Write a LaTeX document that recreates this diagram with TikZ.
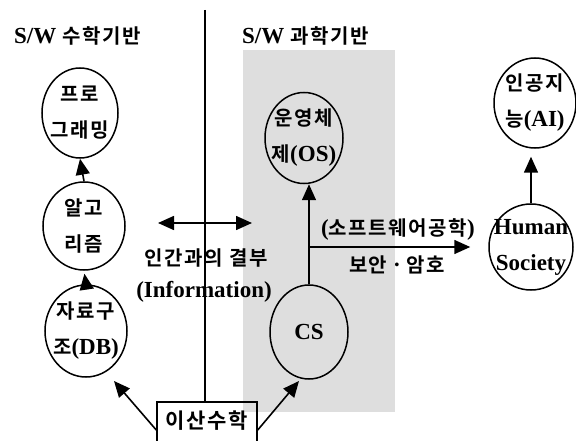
\documentclass[tikz,border=0pt]{standalone}
\usepackage{fontspec}
\setmainfont{Liberation Serif}
\newfontfamily\kr[LetterSpace=8,BoldFont={Noto Sans CJK KR Bold}]{Noto Sans CJK KR}
\newcommand{\hk}[1]{{\kr\fontsize{20}{36}\selectfont #1}}
\usetikzlibrary{shapes.geometric,arrows.meta}
\begin{document}
\begin{tikzpicture}[x=1pt,y=-1pt,
  ell/.style={draw, line width=1.5pt, ellipse, inner sep=0pt},
  lbl/.style={font=\bfseries\fontsize{23}{36}\selectfont, align=center, inner sep=0pt},
  arr/.style={line width=1.6pt, -{Triangle[length=16pt,width=14pt]}},
  darr/.style={line width=1.6pt, {Triangle[length=16pt,width=14pt]}-{Triangle[length=16pt,width=14pt]}},
]
\useasboundingbox (0,0) rectangle (576,441);
\clip (0,0) rectangle (576,441);
\fill[black!13] (243,50) rectangle (395,412);

% headings
\node[lbl, anchor=west] (h1) at (14,36) {S/W \hk{수학기반}};
\node[lbl, anchor=west] (h2) at (242,36) {S/W \hk{과학기반}};

% ellipses
\node[ell, minimum width=76pt, minimum height=90pt] (prog) at (80,113) {};
\node[lbl] (progT) at (prog) {\hk{프로}\\\hk{그래밍}};
\node[ell, minimum width=82pt, minimum height=88pt] (algo) at (84,226) {};
\node[lbl] (algoT) at (algo) {\hk{알고}\\\hk{리즘}};
\node[ell, minimum width=82pt, minimum height=92pt] (ds) at (86,331) {};
\node[lbl] (dsT) at (ds) {\hk{자료구}\\\hk{조}(DB)};
\node[ell, minimum width=78pt, minimum height=91pt] (os) at (304,138) {};
\node[lbl] (osT) at (os) {\hk{운영체}\\\hk{제}(OS)};
\node[ell, minimum width=78pt, minimum height=94pt] (cs) at (309,332) {};
\node[lbl] (csT) at (cs) {CS};
\node[ell, minimum width=84pt, minimum height=86pt] (hs) at (531,247) {};
\node[lbl] (hsT) at (hs) {Human\\Society};
\node[ell, minimum width=82pt, minimum height=90pt] (ai) at (535,103) {};
\node[lbl] (aiT) at (ai) {\hk{인공지}\\\hk{능}(AI)};

% box
\node[draw, line width=1.5pt, minimum width=100pt, minimum height=56pt, inner sep=0pt] (dm) at (207,430) {};
\node[lbl] (dmT) at (207,421) {{\kr\fontsize{21}{36}\selectfont 이산수학}};

% vertical divider
\coordinate (top) at (205,10);
\draw[line width=1.3pt] (top) -- (top |- dm.north);

% middle texts
\node[lbl] (conn) at (206,258) {\hk{인간과의 결부}};
\node[lbl] (info) at (204,292) {(Information)};
\node[lbl] (se) at (398,230) {(\hk{소프트웨어공학})};
\node[lbl] (sec) at (397,265) {\hk{보안} · \hk{암호}};

% arrows
\draw[arr] (algo.north) -- (prog.south);
\draw[arr, shorten >=3pt] (ds.north) -- (algo.south);
\draw[arr] (cs.north) -- (os.south -| cs.north);
\coordinate (br) at (cs.north |- hs.west);
\draw[arr, shorten >=18pt] (br) -- (hs.west);
\draw[arr, shorten >=8pt] (hs.north) -- (hs.north |- ai.south);
\coordinate (dl) at (158,223);
\coordinate (dr) at (252,223);
\draw[darr] (dl) -- (dr);
\coordinate (dsTip) at (114,381);
\coordinate (csTip) at (299,381);
\draw[arr] (dm.west) -- (dsTip);
\draw[arr] (dm.east) -- (csTip);
\end{tikzpicture}
\end{document}
